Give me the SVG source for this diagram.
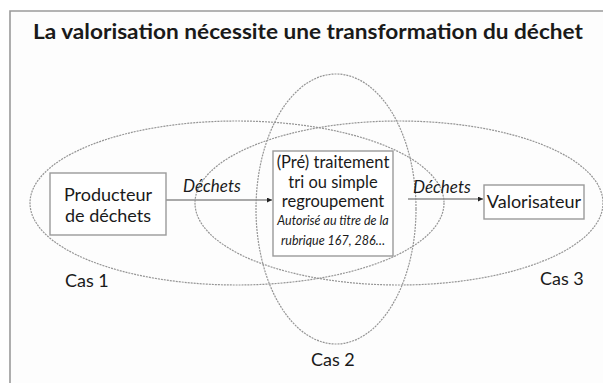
<svg xmlns="http://www.w3.org/2000/svg" width="603" height="383" viewBox="0 0 603 383">
<defs>
<style>
.frame{fill:none;stroke:#9a9a9a;stroke-width:1.6}
.ell{fill:none;stroke:#959595;stroke-width:1.2;stroke-dasharray:2 1}
.box{fill:#ffffff;stroke:#9a9a9a;stroke-width:1.4}
.edge{stroke:#8c8c8c;stroke-width:1.6;fill:none}
.t{font-family:Lato,"Liberation Sans",sans-serif;fill:#1a1a1a}
.title{font-size:20px;font-weight:bold}
.lbl{font-size:18px}
.it{font-style:italic;font-size:17px}
</style>
<marker id="ah" viewBox="0 0 10 10" refX="10" refY="5" markerWidth="5" markerHeight="5" orient="auto" markerUnits="userSpaceOnUse">
<path d="M0,0 L10,5 L0,10 Z" fill="#222"/>
</marker>
</defs>
<rect width="603" height="383" fill="#ffffff"/>
<rect x="10" y="11" width="600" height="380" fill="#fdfdfd"/>
<path class="frame" d="M10,383 V11 H603"/>
<text class="t title" x="33" y="39" textLength="550" lengthAdjust="spacingAndGlyphs">La valorisation nécessite une transformation du déchet</text>

<g id="cas1">
<ellipse class="ell" cx="237" cy="203" rx="207" ry="82"/>
<text class="t lbl" x="65" y="287">Cas 1</text>
</g>
<g id="cas3">
<ellipse class="ell" cx="399" cy="203" rx="204" ry="82"/>
<text class="t lbl" x="540" y="285">Cas 3</text>
</g>
<g id="cas2">
<ellipse class="ell" cx="336" cy="209" rx="80" ry="135"/>
<text class="t lbl" x="311" y="366">Cas 2</text>
</g>

<g id="connectors">
<line class="edge" x1="166" y1="200" x2="272" y2="200" marker-end="url(#ah)"/>
<text class="t it" x="183" y="192">Déchets</text>
<line class="edge" x1="408" y1="199" x2="483" y2="199" marker-end="url(#ah)"/>
<text class="t it" x="413" y="193">Déchets</text>
</g>

<g id="producteur">
<rect class="box" x="50" y="173" width="116" height="62"/>
<text class="t lbl" x="108" y="201" text-anchor="middle">Producteur</text>
<text class="t lbl" x="108" y="222" text-anchor="middle">de déchets</text>
</g>

<g id="traitement">
<rect class="box" x="273" y="151" width="120" height="105"/>
<text class="t" font-size="16.5" x="333" y="168" text-anchor="middle">(Pré) traitement</text>
<text class="t" font-size="16.5" x="333" y="188" text-anchor="middle">tri ou simple</text>
<text class="t" font-size="16.5" x="333" y="207" text-anchor="middle">regroupement</text>
<text class="t" font-style="italic" font-size="12.5" x="333" y="225" text-anchor="middle">Autorisé au titre de la</text>
<text class="t" font-style="italic" font-size="12.5" x="333" y="245" text-anchor="middle">rubrique 167, 286…</text>
</g>

<g id="valorisateur">
<rect class="box" x="484" y="185" width="100" height="34"/>
<text class="t lbl" x="534" y="208" text-anchor="middle">Valorisateur</text>
</g>
</svg>
